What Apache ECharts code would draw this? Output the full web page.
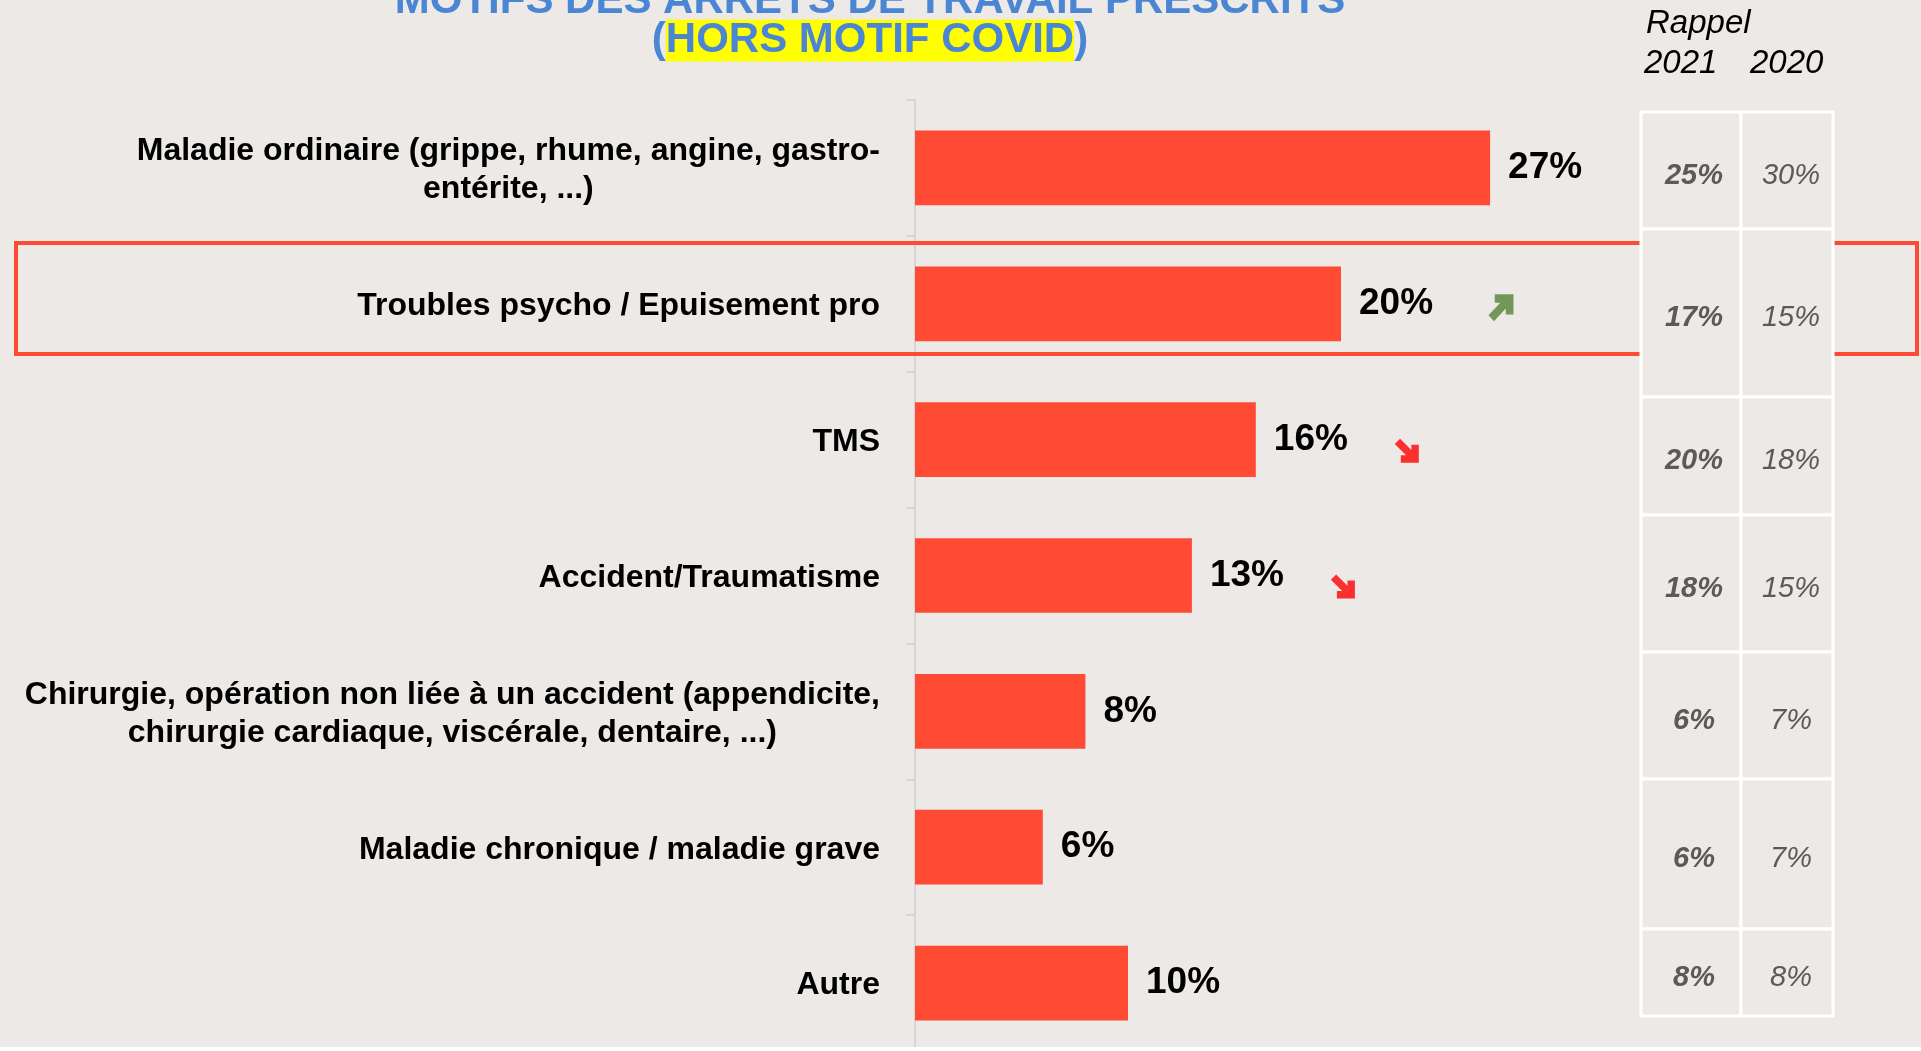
<!DOCTYPE html>
<html>
<head>
    <meta charset="utf-8">
    <title>Motifs des arrêts de travail prescrits</title>
    <script src="https://cdn.jsdelivr.net/npm/echarts@6/dist/echarts.min.js"></script>
    <style>
        html, body { margin: 0; padding: 0; background: #fff; }
        #main { width: 1921px; height: 1051px; }
    </style>
</head>
<body>
<div id="main"></div>
<script>
    // données
    var categories = [
        'Maladie ordinaire (grippe, rhume, angine, gastro-\nentérite, ...)',
        'Troubles psycho / Epuisement pro',
        'TMS',
        'Accident/Traumatisme',
        'Chirurgie, opération non liée à un accident (appendicite,\nchirurgie cardiaque, viscérale, dentaire, ...)',
        'Maladie chronique / maladie grave',
        'Autre'
    ];
    var values = [27, 20, 16, 13, 8, 6, 10];
    var rappel2021 = [25, 17, 20, 18, 6, 6, 8];
    var rappel2020 = [30, 15, 18, 15, 7, 7, 8];
    var trends = ['', 'up', 'down', 'down', '', '', ''];
    var tableHeader = ['Rappel', '2021', '2020'];

    var FONT = '"Liberation Sans", Arial, sans-serif';
    var BG = '#ece9e6';
    var RED = '#ff4b33';
    var GREY = '#5a5a5a';

    // tableau "Rappel" (mise en page)
    var rowEdges = [112, 229, 397, 515, 652, 779, 929, 1016];
    var colEdges = [1641, 1741, 1833];

    var arrowPath = 'path://M2.5,0 L10,0 L10,7.5 L6.9,7.5 L6.9,5.3 L2.2,10 L0,7.8 L4.7,3.1 L2.5,3.1 Z';

    var graphics = [];
    // cadre rouge autour de la ligne "Troubles psycho"
    graphics.push({
        type: 'rect', z: 10,
        shape: { x: 16, y: 243, width: 1901, height: 111 },
        style: { fill: 'transparent', stroke: RED, lineWidth: 4 }
    });
    // titre
    graphics.push({
        type: 'text', z: 20, x: 870, y: -15,
        style: {
            text: 'MOTIFS DES ARRETS DE TRAVAIL PRESCRITS\n({hl|HORS MOTIF COVID})',
            align: 'center', verticalAlign: 'top',
            fontFamily: FONT, fontWeight: 'bold', fontSize: 42,
            fill: '#4a86d4', lineHeight: 32,
            rich: {
                hl: {
                    backgroundColor: '#ffff00', lineHeight: 47,
                    fontFamily: FONT, fontWeight: 'bold', fontSize: 42, fill: '#4a86d4'
                }
            }
        }
    });
    // en-têtes
    graphics.push({
        type: 'text', z: 20, x: 1646, y: 24,
        style: { text: tableHeader[0], fontFamily: FONT, fontStyle: 'italic', fontSize: 33, fill: '#000', verticalAlign: 'middle' }
    });
    graphics.push({
        type: 'text', z: 20, x: 1644, y: 64,
        style: { text: tableHeader[1], fontFamily: FONT, fontStyle: 'italic', fontSize: 33, fill: '#000', verticalAlign: 'middle' }
    });
    graphics.push({
        type: 'text', z: 20, x: 1750, y: 64,
        style: { text: tableHeader[2], fontFamily: FONT, fontStyle: 'italic', fontSize: 33, fill: '#000', verticalAlign: 'middle' }
    });
    // cellules
    for (var i = 0; i < rappel2021.length; i++) {
        var y0 = rowEdges[i], y1 = rowEdges[i + 1];
        for (var c = 0; c < 2; c++) {
            graphics.push({
                type: 'rect', z: 15,
                shape: { x: colEdges[c], y: y0, width: colEdges[c + 1] - colEdges[c], height: y1 - y0 },
                style: { fill: BG, stroke: '#ffffff', lineWidth: 3 }
            });
        }
        var cy = (y0 + y1) / 2 + 5;
        graphics.push({
            type: 'text', z: 20, x: (colEdges[0] + colEdges[1]) / 2 + 3, y: cy,
            style: {
                text: rappel2021[i] + '%', align: 'center', verticalAlign: 'middle',
                fontFamily: FONT, fontWeight: 'bold', fontStyle: 'italic', fontSize: 29, fill: GREY
            }
        });
        graphics.push({
            type: 'text', z: 20, x: (colEdges[1] + colEdges[2]) / 2 + 4, y: cy,
            style: {
                text: rappel2020[i] + '%', align: 'center', verticalAlign: 'middle',
                fontFamily: FONT, fontStyle: 'italic', fontSize: 29, fill: GREY
            }
        });
    }
    // bande blanche en bas
    graphics.push({
        type: 'rect', z: 30,
        shape: { x: 0, y: 1047, width: 1921, height: 4 },
        style: { fill: '#ffffff' }
    });

    // flèches de tendance
    var arrowData = [];
    for (var k = 0; k < trends.length; k++) {
        if (trends[k] === 'up') {
            arrowData.push({
                value: [values[k], k], symbolRotate: 0, symbolOffset: [160, 4],
                symbolSize: [25, 27], itemStyle: { color: '#548235' }
            });
        } else if (trends[k] === 'down') {
            arrowData.push({
                value: [values[k], k], symbolRotate: -90, symbolOffset: [151, 11],
                symbolSize: [24, 24], itemStyle: { color: '#ff0000' }
            });
        }
    }

    var myChart = echarts.init(document.getElementById('main'));
    var option = {
        backgroundColor: BG,
        animation: false,
        grid: {
            left: 915,
            top: 100,
            width: 639,
            height: 955
        },
        xAxis: {
            type: 'value',
            min: 0,
            max: 30,
            show: false
        },
        yAxis: {
            type: 'category',
            inverse: true,
            data: categories,
            axisLine: { show: true, lineStyle: { color: '#d6d6d6', width: 2 } },
            axisTick: { show: true, length: 9, lineStyle: { color: '#d6d6d6', width: 2 } },
            axisLabel: {
                margin: 35,
                formatter: function (v) {
                    return v.split('\n').map(function (s) { return '{c|' + s + '}'; }).join('\n');
                },
                rich: {
                    c: {
                        align: 'center',
                        fontFamily: FONT,
                        fontWeight: 'bold',
                        fontSize: 32,
                        lineHeight: 38,
                        padding: [5, 0, 0, 0],
                        color: '#000'
                    }
                }
            }
        },
        series: [
            {
                type: 'bar',
                data: values,
                barWidth: '55%',
                itemStyle: { color: RED },
                label: {
                    show: true,
                    position: 'right',
                    distance: 18,
                    formatter: '{c}%',
                    fontFamily: FONT,
                    fontWeight: 'bold',
                    fontSize: 37,
                    padding: [9, 0, 0, 0],
                    color: '#000'
                }
            },
            {
                type: 'scatter',
                symbol: arrowPath,
                data: arrowData,
                z: 5
            }
        ],
        graphic: graphics
    };
    myChart.setOption(option);
</script>
</body>
</html>
